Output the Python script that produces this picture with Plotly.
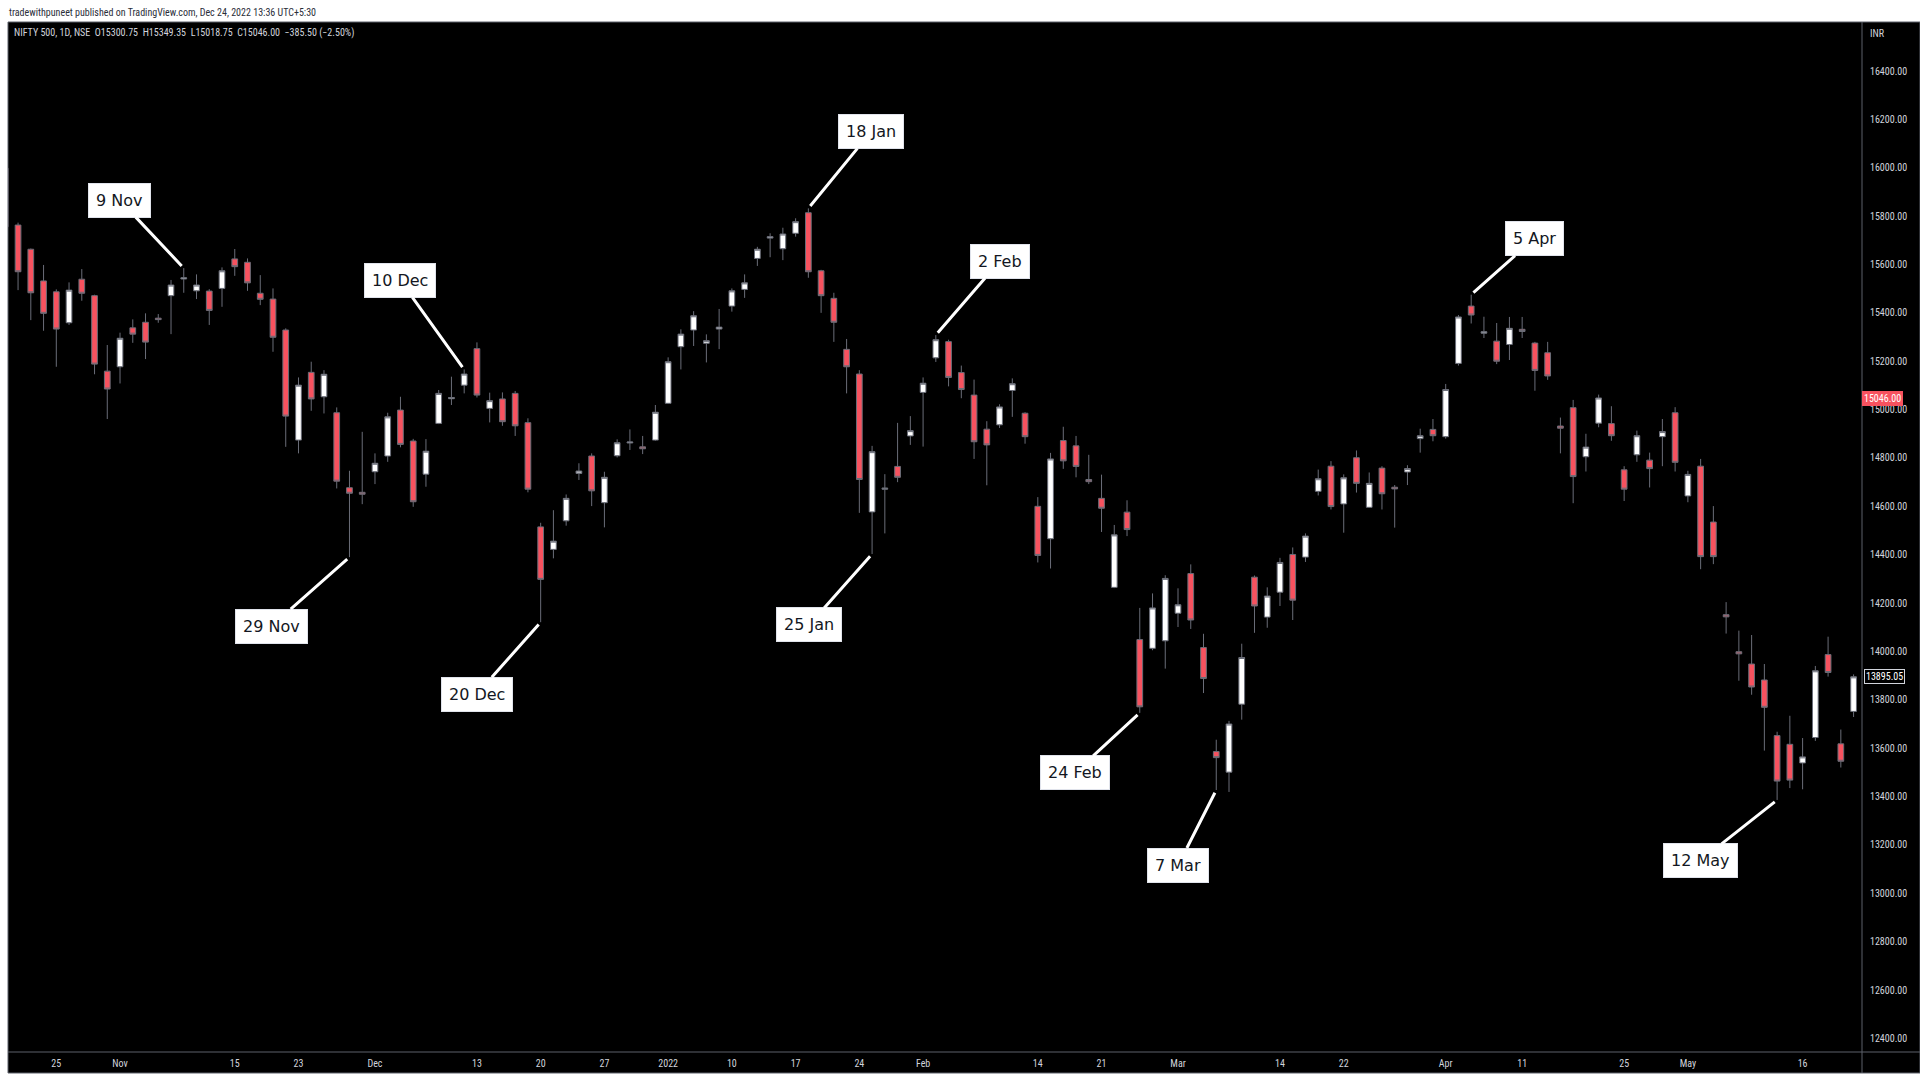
import pandas as pd
import plotly.graph_objects as go

# ---------------- data ----------------
holidays = ["2021-11-05", "2021-11-19", "2022-01-26", "2022-03-01",
            "2022-03-18", "2022-04-14", "2022-04-15", "2022-05-03"]
dates = [d.strftime("%Y-%m-%d") for d in pd.bdate_range("2021-10-19", "2022-05-20")
         if d.strftime("%Y-%m-%d") not in holidays]

open_ = [15998, 15763, 15663, 15532, 15487, 15359, 15539, 15471, 15159,
         15177, 15338, 15361, 15378, 15471, 15540, 15491, 15490, 15501, 15623, 15609, 15481, 15457,
         15329, 14874, 15154, 15053, 14987, 14677, 14658,
         14743, 14808, 14998, 14870, 14733, 14943, 15045, 15101, 15252, 15005, 15044, 15067, 14946,
         14515, 14422, 14540, 14736, 14808, 14615, 14809, 14862, 14846, 14874,
         15026, 15260, 15329, 15274, 15333, 15428, 15497, 15625, 15709, 15665, 15729, 15814, 15574,
         15460, 15249, 15147, 14577, 14671, 14765, 14891,
         15071, 15214, 15281, 15153, 15060, 14919, 14937, 15079, 14985, 14600, 14466, 14872, 14850,
         14711, 14633, 14265, 14576, 14049, 14013, 14044,
         14158, 14322, 14016, 13586, 13501, 13782, 14307, 14142, 14245, 14401, 14390, 14662, 14766,
         14610, 14801, 14596, 14758, 14679, 14742, 14880, 14918,
         14888, 15191, 15428, 15316, 15283, 15269, 15332, 15275, 15235, 14932, 15008, 14805, 14944,
         14942, 14751, 14813, 14791, 14888, 14987,
         14643, 14766, 14535, 14152, 13999, 13948, 13882, 13652, 13616, 13539, 13644, 13987, 13618,
         13752]
high = [16005, 15773, 15666, 15598, 15497, 15526, 15581, 15475, 15267,
        15318, 15373, 15398, 15395, 15536, 15585, 15559, 15498, 15588, 15664, 15625, 15556, 15501,
        15336, 15133, 15198, 15163, 15009, 14747, 14908,
        14819, 14987, 15053, 14879, 14878, 15081, 15136, 15166, 15278, 15070, 15071, 15077, 14964,
        14532, 14584, 14649, 14778, 14819, 14743, 14877, 14918, 14891, 15019,
        15216, 15332, 15407, 15311, 15416, 15501, 15559, 15673, 15729, 15752, 15791, 15832, 15578,
        15483, 15292, 15163, 14850, 14733, 14945, 14973,
        15133, 15308, 15289, 15182, 15124, 14952, 15022, 15129, 14989, 14638, 14821, 14929, 14891,
        14813, 14731, 14523, 14625, 14180, 14240, 14315,
        14261, 14360, 14073, 13635, 13713, 14032, 14314, 14265, 14387, 14430, 14488, 14752, 14787,
        14732, 14831, 14740, 14766, 14688, 14770, 14921, 14961,
        15106, 15391, 15475, 15384, 15358, 15383, 15383, 15280, 15280, 14967, 15040, 14900, 15062,
        15014, 14766, 14913, 14822, 14961, 15010,
        14747, 14796, 14601, 14204, 14086, 14068, 13948, 13668, 13734, 13642, 13940, 14061, 13677,
        13905]
low = [15745, 15494, 15370, 15326, 15177, 15350, 15450, 15146, 14961,
       15108, 15276, 15209, 15359, 15312, 15483, 15457, 15350, 15425, 15553, 15491, 15432, 15239,
       14846, 14819, 14995, 14984, 14674, 14390, 14609,
       14692, 14784, 14844, 14598, 14681, 14940, 15019, 15067, 15050, 14947, 14933, 14891, 14658,
       14121, 14385, 14520, 14709, 14601, 14513, 14802, 14833, 14816, 14871,
       15023, 15166, 15263, 15195, 15250, 15405, 15462, 15594, 15630, 15618, 15715, 15545, 15400,
       15280, 15067, 14573, 14403, 14488, 14700, 14854,
       14847, 15197, 15096, 15047, 14796, 14687, 14924, 14970, 14859, 14368, 14343, 14755, 14720,
       14692, 14494, 14262, 14477, 13746, 14005, 13929,
       14101, 14093, 13828, 13427, 13419, 13718, 14077, 14098, 14188, 14130, 14370, 14645, 14587,
       14491, 14657, 14594, 14587, 14512, 14688, 14822, 14869,
       14880, 15182, 15356, 15296, 15188, 15205, 15296, 15078, 15123, 14819, 14613, 14744, 14927,
       14871, 14622, 14784, 14678, 14766, 14744,
       14617, 14340, 14361, 14074, 13879, 13821, 13590, 13386, 13435, 13430, 13630, 13896, 13520,
       13729]
close = [15756, 15570, 15483, 15398, 15333, 15494, 15481, 15188, 15085,
         15295, 15312, 15279, 15372, 15515, 15545, 15515, 15410, 15574, 15591, 15524, 15456, 15299,
         14973, 15101, 15044, 15146, 14704, 14654, 14650,
         14778, 14970, 14856, 14619, 14828, 15067, 15050, 15147, 15060, 15037, 14950, 14933, 14671,
         14298, 14456, 14633, 14746, 14664, 14720, 14863, 14866, 14838, 14989,
         15198, 15312, 15388, 15285, 15341, 15491, 15524, 15663, 15715, 15726, 15777, 15570, 15471,
         15361, 15177, 14711, 14826, 14675, 14720, 14913,
         15109, 15289, 15133, 15083, 14867, 14854, 15011, 15107, 14888, 14397, 14796, 14788, 14765,
         14702, 14592, 14482, 14504, 13771, 14180, 14302,
         14193, 14130, 13888, 13561, 13700, 13975, 14188, 14229, 14368, 14212, 14477, 14714, 14599,
         14718, 14695, 14695, 14652, 14672, 14756, 14892, 14892,
         15083, 15383, 15391, 15322, 15200, 15336, 15323, 15162, 15139, 14923, 14723, 14845, 15048,
         14892, 14671, 14892, 14756, 14909, 14782,
         14732, 14392, 14392, 14143, 13990, 13853, 13769, 13464, 13468, 13564, 13920, 13913, 13546,
         13895.05]

y_ticks = [12400, 12600, 12800, 13000, 13200, 13400, 13600, 13800, 14000, 14200,
           14400, 14600, 14800, 15000, 15200, 15400, 15600, 15800, 16000, 16200, 16400]
x_tick_dates = ["2021-10-25", "2021-11-01", "2021-11-15", "2021-11-23", "2021-12-01",
                "2021-12-13", "2021-12-20", "2021-12-27", "2022-01-03", "2022-01-10",
                "2022-01-17", "2022-01-24", "2022-02-01", "2022-02-14", "2022-02-21",
                "2022-03-02", "2022-03-14", "2022-03-22", "2022-04-01", "2022-04-11",
                "2022-04-25", "2022-05-02", "2022-05-16"]
x_tick_labels = ["25", "Nov", "15", "23", "Dec", "13", "20", "27", "2022", "10", "17", "24",
                 "Feb", "14", "21", "Mar", "14", "22", "Apr", "11", "25", "May", "16"]

callout_labels = ["9 Nov", "29 Nov", "10 Dec", "20 Dec", "18 Jan", "25 Jan", "2 Feb",
                  "24 Feb", "7 Mar", "5 Apr", "12 May"]
callout_dates = ["2021-11-09", "2021-11-29", "2021-12-10", "2021-12-20", "2022-01-18",
                 "2022-01-25", "2022-02-02", "2022-02-24", "2022-03-07", "2022-04-05",
                 "2022-05-12"]
callout_kind = ["high", "low", "high", "low", "high", "low", "high", "low", "low", "high", "low"]

header = "NIFTY 500, 1D, NSE  O15300.75  H15349.35  L15018.75  C15046.00  \u2212385.50 (\u22122.50%)"
publisher = "tradewithpuneet published on TradingView.com, Dec 24, 2022 13:36 UTC+5:30"
last_price = 15046.00
last_visible_close = close[-1]

# ---------------- style ----------------
W, H = 1920, 1080
L, R, T, B = 8, 58, 22, 28
pw, ph = W - L - R, H - T - B
callout_offsets = [(-64, -68), (-78, 69), (-64, -89), (-64, 72), (63, -77), (-63, 71),
                   (64, -74), (-65, 60), (-38, 75), (63, -56), (-77, 61)]
RED = "#f7525f"
WICK = "#6a6d78"
TXT = "#d1d4dc"
NARROW = "Liberation Sans Narrow, Roboto Condensed, Liberation Sans, Arial"
panel_bottom = (1052 - 1073) / ph

fig = go.Figure()
fig.add_trace(go.Candlestick(
    x=dates, open=open_, high=high, low=low, close=close,
    increasing=dict(fillcolor="#ffffff", line=dict(color=WICK, width=1)),
    decreasing=dict(fillcolor=RED, line=dict(color=WICK, width=1)),
    whiskerwidth=0, showlegend=False, hoverinfo="skip",
))

annotations = []
idx = {d: i for i, d in enumerate(dates)}
for lab, d, kind, (ax, ay) in zip(callout_labels, callout_dates, callout_kind, callout_offsets):
    i = idx[d]
    yv = high[i] if kind == "high" else low[i]
    annotations.append(dict(
        x=d, y=yv, xref="x", yref="y", text=lab, showarrow=True,
        ax=ax, ay=ay, axref="pixel", ayref="pixel",
        arrowhead=0, arrowwidth=3, arrowcolor="#ffffff", standoff=3,
        bgcolor="#ffffff", bordercolor="#e0e3eb", borderwidth=1, borderpad=7,
        font=dict(family="DejaVu Sans, Verdana", size=16, color="#131722"),
    ))

# header texts
annotations.append(dict(x=(7 - L) / pw, y=(H - B - 12) / ph, xref="paper", yref="paper",
                        text=publisher, showarrow=False, xanchor="left", yanchor="middle",
                        font=dict(family=NARROW, size=10, color="#2a2e39")))
annotations.append(dict(x=(12 - L) / pw, y=(H - B - 33) / ph, xref="paper", yref="paper",
                        text=header, showarrow=False, xanchor="left", yanchor="middle",
                        font=dict(family=NARROW, size=10, color=TXT)))
annotations.append(dict(x=1 + 6 / pw, y=(H - B - 33) / ph, xref="paper", yref="paper",
                        text="INR", showarrow=False, xanchor="left", yanchor="middle",
                        font=dict(family=NARROW, size=10, color=TXT)))
# price tags
annotations.append(dict(x=1, y=last_price, xref="paper", yref="y",
                        text=f"{last_price:.2f}", showarrow=False, xanchor="left", yanchor="middle",
                        bgcolor=RED, borderpad=2, borderwidth=0,
                        font=dict(family=NARROW, size=10, color="#ffffff")))
annotations.append(dict(x=1 + 2 / pw, y=last_visible_close, xref="paper", yref="y",
                        text=f"{last_visible_close:.2f}", showarrow=False, xanchor="left",
                        yanchor="middle", bgcolor="#000000", bordercolor="#d1d4dc",
                        borderwidth=1, borderpad=1,
                        font=dict(family=NARROW, size=10, color="#ffffff")))

shapes = [
    dict(type="rect", xref="paper", yref="paper", x0=0, x1=(W - L) / pw,
         y0=panel_bottom, y1=1, fillcolor="#000000", line=dict(width=0), layer="below"),
    dict(type="rect", xref="paper", yref="paper", x0=0, x1=(W - L) / pw,
         y0=panel_bottom, y1=1, line=dict(color="#5d606b", width=1),
         fillcolor="rgba(0,0,0,0)", layer="above"),
    dict(type="line", xref="paper", yref="paper", x0=1, x1=1,
         y0=panel_bottom, y1=1, line=dict(color="#5d606b", width=1)),
    dict(type="line", xref="paper", yref="paper", x0=0, x1=(W - L) / pw,
         y0=0, y1=0, line=dict(color="#5d606b", width=1)),
]

fig.update_layout(
    width=W, height=H,
    margin=dict(l=L, r=R, t=T, b=B),
    paper_bgcolor="#ffffff", plot_bgcolor="#000000",
    boxgap=0.36,
    xaxis=dict(type="category", categoryorder="array", categoryarray=dates,
               range=[0.211, 145.66], rangeslider=dict(visible=False),
               showgrid=False, zeroline=False, showline=False,
               tickmode="array", tickvals=x_tick_dates, ticktext=x_tick_labels,
               ticks="", tickfont=dict(family=NARROW, size=10, color=TXT),
               ticklabelstandoff=4),
    yaxis=dict(side="right", range=[12343.8, 16602.6], showgrid=False, zeroline=False,
               showline=False, tickmode="array", tickvals=y_ticks,
               ticktext=[f"{v:.2f}" for v in y_ticks], ticks="",
               tickfont=dict(family=NARROW, size=10, color=TXT), ticklabelstandoff=7),
    annotations=annotations, shapes=shapes,
    hovermode=False,
)

fig.write_html("out.html", config={"displayModeBar": False},
               post_script="document.body.style.margin='0';document.body.style.overflow='hidden';")
